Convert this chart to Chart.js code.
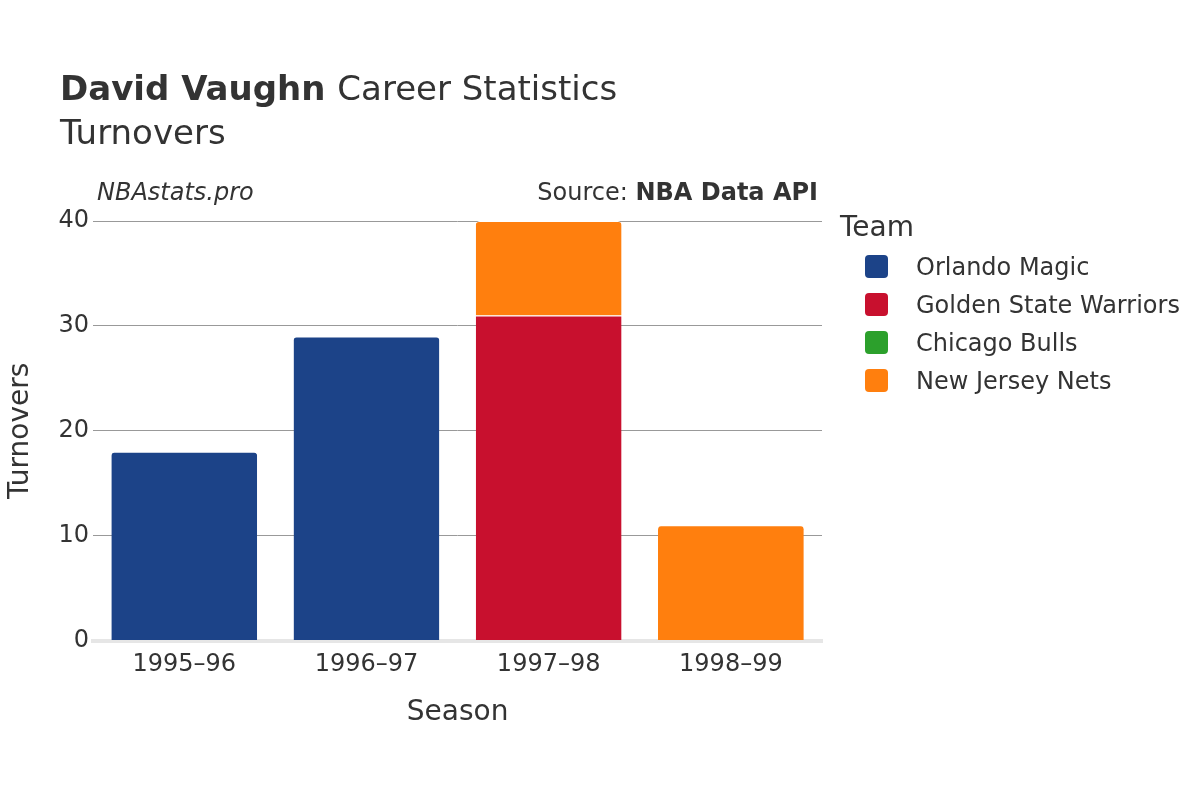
<!DOCTYPE html>
<html><head><meta charset="utf-8">
<script src="https://cdn.jsdelivr.net/npm/chart.js@4/dist/chart.umd.min.js"></script>
<style>html,body{margin:0;padding:0;background:#fff}#c{display:block}</style>
</head><body>
<canvas id="c" width="1200" height="800"></canvas>
<script>
const seasons = ["1995–96","1996–97","1997–98","1998–99"];
const teams = ["Orlando Magic","Golden State Warriors","Chicago Bulls","New Jersey Nets"];
const colors = ["#1c4388","#c8102e","#2ca02c","#ff7f0e"];
const orlando = [18,29,0,0];
const gsw = [0,0,31,0];
const bulls = [0,0,0,0];
const nets = [0,0,9,11];
const yTicks = [0,10,20,30,40];
const F = "'DejaVu Sans', 'Noto Sans', sans-serif";
const vals=[orlando,gsw,bulls,nets];
const textPlugin={id:'txt',afterDraw(ch){
 const c=ch.ctx;c.save();c.fillStyle='#333';c.textBaseline='alphabetic';
 c.font="bold 34px "+F;c.fillText("David Vaughn",60,100);
 const w=c.measureText("David Vaughn ").width;
 c.font="34px "+F;c.fillText("Career Statistics",60+w,100);
 c.fillText("Turnovers",60,144);
 c.font="italic 24px "+F;c.fillText("NBAstats.pro",97,200);
 c.font="bold 24px "+F;c.textAlign='right';c.fillText("NBA Data API",818,200);
 const bw=c.measureText("NBA Data API").width;
 c.font="24px "+F;c.fillText("Source: ",818-bw,200);
 c.textAlign='left';c.font="28px "+F;c.fillText("Team",840,236);
 c.font="24px "+F;
 teams.forEach((t,i)=>{const y=266+i*38;c.fillStyle=colors[i];
  c.beginPath();c.roundRect(865,y-11,23,23,4);c.fill();
  c.fillStyle='#333';c.fillText(t,916,y+9);});
 c.restore();}};
new Chart(document.getElementById('c'),{type:'bar',
 data:{labels:seasons,datasets:teams.map((t,i)=>({label:t,data:vals[i],backgroundColor:colors[i],
  borderColor:'#fff',borderWidth:{top:1},borderSkipped:'bottom',borderRadius:4,
  barPercentage:0.8,categoryPercentage:1}))},
 options:{responsive:false,animation:false,
  layout:{padding:{top:221,right:378,left:0,bottom:66}},
  plugins:{legend:{display:false},tooltip:{enabled:false}},
  scales:{
   x:{stacked:true,grid:{display:false},border:{color:'#e6e6e6',width:4},
      ticks:{color:'#333',font:{family:F,size:24},padding:2},
      title:{display:true,text:'Season',color:'#333',font:{family:F,size:28},padding:{top:15}}},
   y:{stacked:true,min:0,max:40,afterBuildTicks:a=>{a.ticks=yTicks.map(v=>({value:v}))},
      grid:{color:'#999',drawTicks:false},border:{display:false},
      ticks:{color:'#333',font:{family:F,size:24},padding:4},
      title:{display:true,text:'Turnovers',color:'#333',font:{family:F,size:28},padding:{bottom:17}}}}},
 plugins:[textPlugin]});
</script>
</body></html>
